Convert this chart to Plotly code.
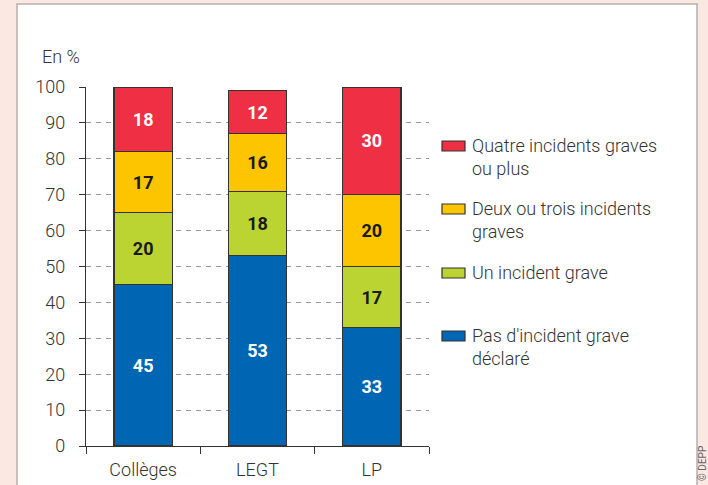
import plotly.graph_objects as go

# Établissements et répartition (en %) selon le nombre d'incidents graves
categories = ["Collèges", "LEGT", "LP"]
pas_incident = [45, 53, 33]
un_incident = [20, 18, 17]
deux_trois = [17, 16, 20]
quatre_plus = [18, 12, 30]

series = [
    ("Pas d'incident grave<br>déclaré", pas_incident, "#0066b3", "white"),
    ("Un incident grave", un_incident, "#bcd431", "#1a1a1a"),
    ("Deux ou trois incidents<br>graves", deux_trois, "#fcc500", "#1a1a1a"),
    ("Quatre incidents graves<br>ou plus", quatre_plus, "#ee2f44", "white"),
]

y_ticks = list(range(0, 101, 10))

FONT = "Roboto, sans-serif"
W, H = 708, 485
L, R, T, B = 86, 279, 87, 39
PW = W - L - R
PH = H - T - B


def px_x(x):
    return (x - L) / PW


def px_y(y):
    return (H - B - y) / PH


fig = go.Figure()
for name, vals, color, tcolor in series:
    fig.add_trace(go.Bar(
        x=categories, y=vals, name=name,
        marker=dict(color=color, line=dict(color="#333333", width=1.2)),
        width=0.51,
        text=[f"<b>{v}</b>" for v in vals],
        textposition="inside", insidetextanchor="middle",
        constraintext="none",
        textfont=dict(family=FONT, size=18, color=tcolor),
        showlegend=False, hoverinfo="skip",
    ))

shapes = []
annotations = []

# White panel behind the chart
shapes.append(dict(
    type="rect", xref="paper", yref="paper", layer="below",
    x0=px_x(17), x1=px_x(697), y0=px_y(H + 20), y1=px_y(4),
    fillcolor="white", line=dict(color="#b5b0ae", width=1.5),
))

# Legend (top entry first)
legend_y = [146, 209, 273, 336]
for (name, vals, color, tcolor), yc in zip(reversed(series), legend_y):
    shapes.append(dict(
        type="rect", xref="paper", yref="paper",
        x0=px_x(442), x1=px_x(465), y0=px_y(yc + 5), y1=px_y(yc - 5),
        fillcolor=color, line=dict(color="#333333", width=1.2),
    ))
    annotations.append(dict(
        xref="paper", yref="paper", x=px_x(470), y=px_y(yc - 13),
        xanchor="left", yanchor="top", align="left", showarrow=False,
        text=name, font=dict(family=FONT, size=18, color="#333333", weight=300),
    ))

annotations.append(dict(
    xref="paper", yref="paper", x=px_x(40), y=px_y(57),
    xanchor="left", yanchor="middle", showarrow=False,
    text="En %", font=dict(family=FONT, size=18, color="#333333", weight=300),
))
annotations.append(dict(
    xref="paper", yref="paper", x=px_x(703), y=px_y(464),
    xanchor="center", yanchor="middle", showarrow=False, textangle=-90,
    text="© DEPP", font=dict(family=FONT, size=10, color="#666666"),
))

tick_font = dict(family=FONT, size=18, color="#333333", weight=300)

fig.update_layout(
    width=W, height=H,
    margin=dict(l=L, r=R, t=T, b=B, pad=0, autoexpand=False),
    barmode="stack", bargap=0.49,
    paper_bgcolor="#fce8e3", plot_bgcolor="white",
    font=dict(family=FONT, size=18, color="#333333"),
    shapes=shapes, annotations=annotations,
    xaxis=dict(
        type="category", tickson="boundaries", ticks="outside", ticklen=7,
        tickcolor="#333333", showline=True, linecolor="#333333", linewidth=1.2,
        showgrid=False, tickfont=tick_font, ticklabelstandoff=7,
        automargin=False, fixedrange=True,
    ),
    yaxis=dict(
        range=[0, 100], tickvals=y_ticks, ticks="outside", ticklen=6,
        tickcolor="#333333", showline=True, linecolor="#333333", linewidth=1.2,
        showgrid=True, gridcolor="#9a9a9a", gridwidth=1, griddash="5px,5px",
        zeroline=False, ticklabelstandoff=10,
        tickfont=tick_font, automargin=False,
        fixedrange=True,
    ),
)

fig.write_html("out.html")
